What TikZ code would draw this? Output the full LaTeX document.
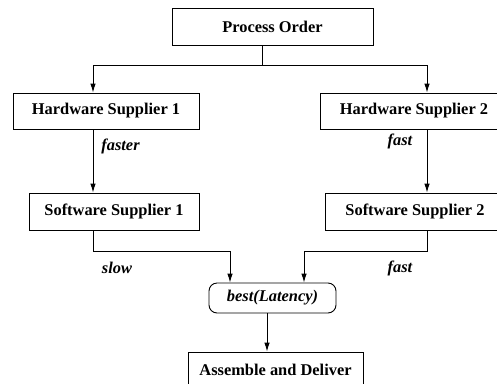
\documentclass[tikz,border=0pt]{standalone}
\usepackage{fontspec}
\setmainfont{Liberation Serif}
\usetikzlibrary{arrows.meta}
\begin{document}
\begin{tikzpicture}[x=1pt,y=-1pt,
  every node/.style={font=\fontsize{16.4}{19}\selectfont\bfseries},
  box/.style={draw,line width=0.9pt,inner sep=0pt,minimum height=36pt},
  rbox/.style={draw,line width=0.9pt,inner sep=0pt,rounded corners=8pt,minimum height=30pt,font=\fontsize{16.4}{19}\selectfont\bfseries\itshape},
  lab/.style={font=\fontsize{16.4}{19}\selectfont\bfseries\itshape,inner sep=0pt},
  conn/.style={line width=0.9pt},
  arr/.style={line width=0.9pt,-{Latex[length=9pt,width=5.5pt]}}]
\useasboundingbox (0,0) rectangle (497,383);
\node[box,minimum width=201pt,minimum height=37pt] (po) at (272.5,26.5) {Process Order};
\node[box,minimum width=186pt] (hs1) at (106,111) {Hardware Supplier 1};
\node[box,minimum width=188pt] (hs2) at (414,111) {Hardware Supplier 2};
\node[box,minimum width=170pt,minimum height=37pt] (ss1) at (114,211.5) {Software Supplier 1};
\node[box,minimum width=180pt,minimum height=37pt] (ss2) at (415,211.5) {Software Supplier 2};
\node[rbox,minimum width=127pt] (best) at (272.5,298) {best(Latency)};
\node[box,minimum width=175pt] (ad) at (275.5,370) {Assemble and Deliver};
\coordinate (split) at (262,65);
\coordinate (L) at (93,65);
\coordinate (R) at (427,65);
\coordinate (jl) at (93,251);
\coordinate (jr) at (427,251);
\coordinate (bl) at (230,251);
\coordinate (br) at (304,251);
\coordinate (bd) at (267,313);
\draw[conn] (po.south -| split) -- (split);
\draw[arr] (split) -- (L) -- (L |- hs1.north);
\draw[arr] (split) -- (R) -- (R |- hs2.north);
\draw[arr] (hs1.south -| L) -- (ss1.north -| L);
\draw[arr] (hs2.south -| R) -- (ss2.north -| R);
\draw[arr] (ss1.south -| jl) -- (jl) -- (bl) -- (best.north -| bl);
\draw[arr] (ss2.south -| jr) -- (jr) -- (br) -- (best.north -| br);
\draw[arr] (best.south -| bd) -- (ad.north -| bd);
\node[lab] (l1) at (120.5,146) {faster};
\node[lab] (l2) at (400,141) {fast};
\node[lab] (l3) at (117,268) {slow};
\node[lab] (l4) at (400,268) {fast};
\end{tikzpicture}
\end{document}
